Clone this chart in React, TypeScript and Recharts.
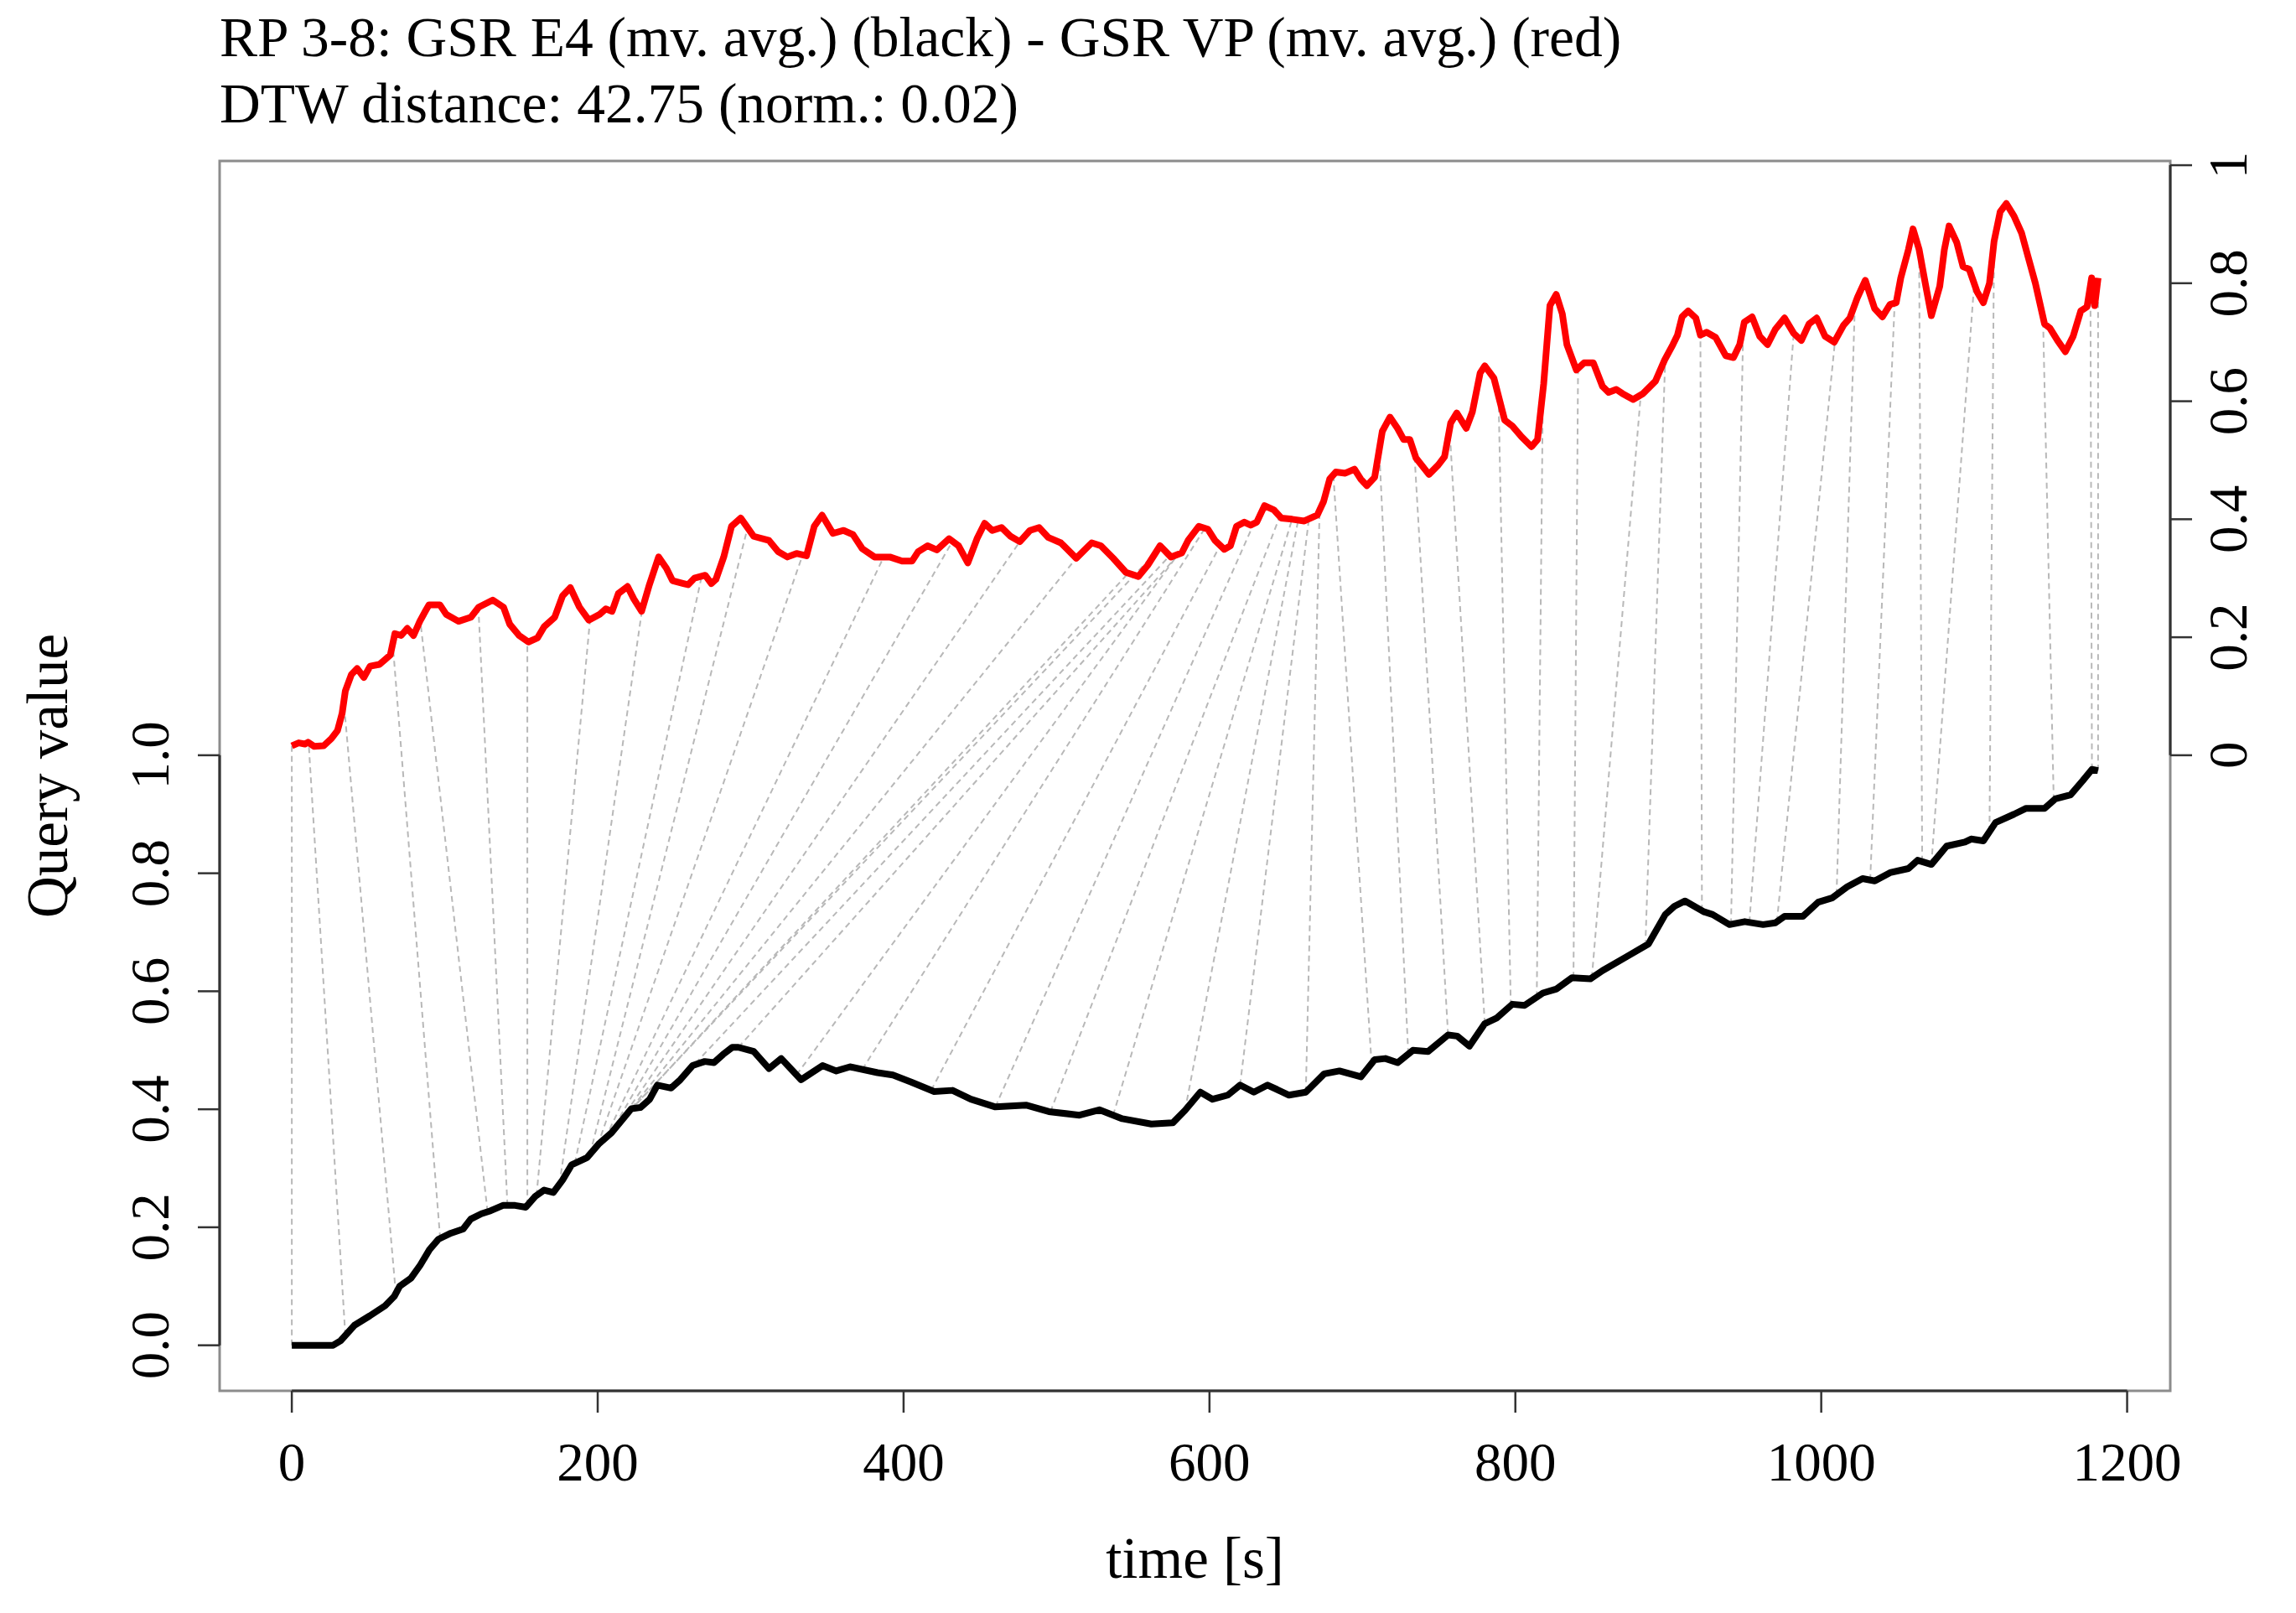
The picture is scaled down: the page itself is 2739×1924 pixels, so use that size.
import React from 'react';
import { ComposedChart, Line, XAxis, YAxis, ReferenceLine, ReferenceArea } from 'recharts';

// ---------- data ----------
const blackTime = [0, 27, 32, 41, 51, 61, 67, 70.5, 78, 84, 90, 96, 104, 112, 117, 124, 130, 138, 146, 153, 159, 165, 171, 177, 183, 193, 201, 209, 215, 222, 228, 234, 239, 248, 254, 262, 270, 276, 282, 288,
  292, 302, 312, 320, 333, 347, 356, 365, 383, 393, 405, 420, 432, 444, 460, 480, 495, 515, 528, 543, 562, 576, 584, 594, 602,
  612, 620, 629, 638, 652, 663, 675, 685, 699, 708, 715, 723, 733, 743, 756, 762, 770, 780, 788, 798, 806, 818, 827, 837, 849, 857, 873, 887, 898, 904, 911,
  923, 929, 940, 950, 962, 970, 976, 988, 998, 1007, 1017, 1027, 1035, 1045, 1057, 1063, 1072, 1082, 1094, 1098, 1106, 1114, 1126, 1134, 1146, 1153, 1163, 1171, 1177, 1181];
const blackValue = [0, 0.0, 0.008, 0.034, 0.05, 0.067, 0.083, 0.1, 0.114, 0.136, 0.162, 0.18, 0.19, 0.197, 0.214, 0.223, 0.228, 0.237, 0.237, 0.234, 0.252, 0.263, 0.259, 0.28, 0.306, 0.318, 0.342, 0.36, 0.379, 0.401, 0.403, 0.417, 0.441, 0.436, 0.45, 0.474, 0.481, 0.479, 0.493, 0.505,
  0.505, 0.498, 0.469, 0.486, 0.45, 0.474, 0.465, 0.472, 0.462, 0.458, 0.446, 0.43, 0.432, 0.417, 0.404, 0.407, 0.396, 0.39, 0.399, 0.384, 0.375, 0.377, 0.398, 0.429, 0.417,
  0.424, 0.441, 0.429, 0.441, 0.424, 0.429, 0.46, 0.465, 0.455, 0.484, 0.486, 0.479, 0.5, 0.498, 0.526, 0.524, 0.507, 0.545, 0.555, 0.578, 0.576, 0.597, 0.604, 0.623, 0.621, 0.635, 0.659, 0.68, 0.73, 0.744, 0.753,
  0.735, 0.73, 0.713, 0.718, 0.713, 0.716, 0.727, 0.727, 0.751, 0.758, 0.777, 0.791, 0.787, 0.801, 0.808, 0.822, 0.815, 0.846, 0.853, 0.858, 0.855, 0.886, 0.9, 0.91, 0.91, 0.926, 0.933, 0.957, 0.976, 0.974];

const redTime = [0, 4.5, 8.6, 10.6, 14.7, 20.8, 25.8, 29.9, 32.9, 35, 39, 42.7, 47.1, 51.2, 57.3, 61.3, 64.4, 67.4, 71.5, 75.5, 79.6, 83.7, 87.7, 89.7, 96.8, 100.9, 109, 117.1, 122.2, 131.4, 138.4, 142.5, 148.6, 154.7, 160.7, 165, 171.9, 177, 182.1, 188.1, 194.2, 201.3, 205.3, 209.4, 213.5, 219.5, 223.6, 228.7, 233.8, 239.8, 244.9, 248.9, 256.1, 259.1, 263.2, 270.3, 274.3, 277.3, 282.4, 287.5, 293.5,
  302, 312, 318, 324, 330, 336.5, 341.6, 346.7, 353.8, 360.8, 366.9, 373, 381, 391, 399, 405.5, 409.5, 415.6, 421.7, 429.8, 435.9, 442, 448, 453, 458, 464, 470, 476, 482.6, 488.6, 494.7, 502.8, 512.9, 523, 529, 537, 545.4, 553.5, 559.6, 567.7, 574.8, 581.9, 586, 593, 599,
  603.6, 609.7, 613.7, 617.7, 622.8, 626.9, 630.9, 636, 642, 647, 654, 662, 670.5, 674.6, 678.6, 682.6, 688.8, 694.8, 698.9, 702.9, 708, 713, 718, 723, 727, 731, 735, 743.5, 749.6, 753.7, 757.7, 761.7, 767.9, 771.9, 777, 780, 786, 793, 798, 804, 810.5, 814.5, 818.5, 822.6, 826.7, 830.7, 833.7, 839.9, 844.9, 851, 857, 861, 866, 870, 877, 883.5, 891.6, 897.6,
  903, 906, 909, 913, 918, 921, 925, 931, 937.6, 942.6, 946.7, 949.7, 954.8, 959.8, 964.9, 970, 976, 982, 987, 992, 997, 1002.5, 1008.5, 1014.6, 1018.7, 1023.7, 1028.8, 1034.9, 1040, 1045, 1049, 1052, 1057, 1060, 1064, 1068, 1072, 1077.5, 1080.5, 1083.6, 1088.6, 1092.7, 1096.7, 1101.8, 1106, 1110, 1113, 1117, 1121, 1126, 1131, 1135, 1140, 1146, 1149.5, 1154.5, 1159.6, 1164.7, 1169.7, 1173.8, 1176.8, 1178.8, 1181];
const redValue = [0.016, 0.021, 0.019, 0.022, 0.015, 0.016, 0.028, 0.042, 0.071, 0.109, 0.137, 0.147, 0.132, 0.151, 0.154, 0.163, 0.17, 0.206, 0.203, 0.215, 0.203, 0.227, 0.246, 0.255, 0.255, 0.239, 0.227, 0.234, 0.251, 0.263, 0.251, 0.222, 0.203, 0.192, 0.199, 0.218, 0.234, 0.27, 0.284, 0.251, 0.229, 0.239, 0.248, 0.244, 0.274, 0.286, 0.265, 0.244, 0.289, 0.336, 0.317, 0.296, 0.291, 0.289, 0.3, 0.305, 0.291, 0.298, 0.336, 0.388, 0.402,
  0.371, 0.364, 0.345, 0.336, 0.342, 0.338, 0.388, 0.407, 0.376, 0.381, 0.374, 0.35, 0.336, 0.336, 0.329, 0.329, 0.345, 0.355, 0.348, 0.367, 0.355, 0.326, 0.367, 0.393, 0.381, 0.386, 0.371, 0.362, 0.381, 0.386, 0.369, 0.36, 0.334, 0.36, 0.355, 0.334, 0.31, 0.303, 0.322, 0.355, 0.336, 0.343, 0.364, 0.388, 0.383,
  0.364, 0.349, 0.355, 0.388, 0.395, 0.39, 0.395, 0.423, 0.416, 0.402, 0.4, 0.397, 0.407, 0.43, 0.468, 0.48, 0.478, 0.485, 0.468, 0.457, 0.471, 0.549, 0.573, 0.554, 0.535, 0.535, 0.504, 0.476, 0.492, 0.506, 0.563, 0.58, 0.554, 0.582, 0.648, 0.66, 0.639, 0.568, 0.558, 0.54, 0.523, 0.535, 0.629, 0.762, 0.781, 0.748, 0.696, 0.653, 0.665, 0.665, 0.625, 0.615, 0.62, 0.613, 0.603, 0.613, 0.634, 0.67,
  0.696, 0.712, 0.743, 0.753, 0.741, 0.712, 0.717, 0.708, 0.677, 0.674, 0.696, 0.734, 0.743, 0.71, 0.696, 0.722, 0.741, 0.715, 0.703, 0.731, 0.741, 0.71, 0.7, 0.729, 0.741, 0.776, 0.805, 0.757, 0.743, 0.764, 0.767, 0.809, 0.857, 0.892, 0.857, 0.8, 0.745, 0.795, 0.857, 0.897, 0.869, 0.828, 0.824, 0.786, 0.767, 0.8, 0.871, 0.921, 0.935, 0.914, 0.885, 0.847, 0.8, 0.731, 0.724, 0.703, 0.684, 0.71, 0.753, 0.76, 0.809, 0.762, 0.809];

// DTW alignment: query (black) time -> reference (red) time
const matchQueryTime = [0, 35, 68, 97, 128, 141, 154, 160, 175, 185, 195, 200, 205, 208, 211, 214, 217, 220, 255, 292, 330, 373, 418, 460, 496, 537, 584, 620, 663, 706, 730, 756, 780, 797, 814, 838, 850, 885, 922, 941, 953, 971, 1010, 1032, 1066, 1072, 1110, 1152, 1177, 1181];
const matchRefTime = [0, 11, 34, 66, 84, 122, 154, 195, 229, 268, 298, 334, 387, 432, 476, 513, 547, 565, 574, 580, 588, 597, 607, 629, 646, 654, 658, 665, 672, 681, 711, 734, 757, 789, 818, 841, 882, 898, 921, 949, 982, 1009, 1022, 1048, 1064, 1100, 1113, 1145, 1176, 1181];

const xTicks = [0, 200, 400, 600, 800, 1000, 1200];
const leftTicks = [0, 0.2, 0.4, 0.6, 0.8, 1.0];
const rightTicks = [0, 0.2, 0.4, 0.6, 0.8, 1];

const TITLE_1 = 'RP 3-8: GSR E4 (mv. avg.) (black) - GSR VP (mv. avg.) (red)';
const TITLE_2 = 'DTW distance: 42.75 (norm.: 0.02)';
const X_LABEL = 'time [s]';
const Y_LABEL = 'Query value';

const REF_OFFSET = 1; // reference series is drawn shifted up by 1
const X_DOMAIN: [number, number] = [-47.2, 1228.2];
const Y_DOMAIN: [number, number] = [-0.0772, 2.0072];
const Y_RIGHT_DOMAIN: [number, number] = [Y_DOMAIN[0] - REF_OFFSET, Y_DOMAIN[1] - REF_OFFSET];

// ---------- helpers ----------
const blackData = blackTime.map((t, i) => ({ t, v: blackValue[i] }));
const redData = redTime.map((t, i) => ({ t, v: redValue[i] }));

function valueAt(ts: number[], vs: number[], t: number) {
  if (t <= ts[0]) return vs[0];
  for (let i = 1; i < ts.length; i++) {
    if (t <= ts[i]) {
      const f = (t - ts[i - 1]) / (ts[i] - ts[i - 1]);
      return vs[i - 1] + f * (vs[i] - vs[i - 1]);
    }
  }
  return vs[vs.length - 1];
}

const matches = matchQueryTime.map((tq, i) => {
  const tr = matchRefTime[i];
  return [
    { x: tq, y: valueAt(blackTime, blackValue, tq) },
    { x: tr, y: valueAt(redTime, redValue, tr) + REF_OFFSET },
  ];
});

const FONT = "'Liberation Serif', 'Times New Roman', serif";
const W = 2739;
const H = 1924;
// plot box: left 262, right 2589, top 192, bottom 1659
const LEFT_AXIS_W = 200;
const RIGHT_AXIS_W = 140;
const X_AXIS_H = 200;
const M = { top: 192, right: 150 - RIGHT_AXIS_W, bottom: 265 - X_AXIS_H, left: 262 - LEFT_AXIS_W };
const BOX = { left: 262, right: 2589, top: 192, bottom: 1659 };

const XTick = (props: any) => {
  const { x, y, payload } = props;
  return (
    <text x={x} y={y + 81} textAnchor="middle" fontFamily={FONT} fontSize={65} fill="#000">
      {String(payload.value)}
    </text>
  );
};

const LeftTick = (props: any) => {
  const { x, y, payload } = props;
  const bx = x - 35;
  return (
    <text x={bx} y={y} transform={`rotate(-90 ${bx} ${y})`} textAnchor="middle" fontFamily={FONT} fontSize={65} fill="#000">
      {Number(payload.value).toFixed(1)}
    </text>
  );
};

const RightTick = (props: any) => {
  const { x, y, payload } = props;
  const bx = x + 65;
  return (
    <text x={bx} y={y} transform={`rotate(-90 ${bx} ${y})`} textAnchor="middle" fontFamily={FONT} fontSize={65} fill="#000">
      {String(payload.value)}
    </text>
  );
};

const tickLineStyle = { stroke: '#333', strokeWidth: 2.5 };

export default function App() {
  return (
    <div style={{ position: 'absolute', left: 0, top: 0, width: W, height: H, background: '#fff' }}>
      <ComposedChart width={W} height={H} margin={M}>
        <XAxis
          xAxisId="x"
          type="number"
          dataKey="t"
          domain={X_DOMAIN}
          ticks={xTicks}
          allowDataOverflow
          axisLine={false}
          tickLine={tickLineStyle}
          tickSize={26}
          tickMargin={0}
          height={X_AXIS_H}
          tick={<XTick />}
          interval={0}
        />
        <YAxis
          yAxisId="left"
          type="number"
          domain={Y_DOMAIN}
          ticks={leftTicks}
          allowDataOverflow
          axisLine={false}
          tickLine={tickLineStyle}
          tickSize={26}
          tickMargin={0}
          width={LEFT_AXIS_W}
          tick={<LeftTick />}
          interval={0}
        />
        <YAxis
          yAxisId="right"
          orientation="right"
          type="number"
          domain={Y_RIGHT_DOMAIN}
          ticks={rightTicks}
          allowDataOverflow
          axisLine={false}
          tickLine={tickLineStyle}
          tickSize={26}
          tickMargin={0}
          width={RIGHT_AXIS_W}
          tick={<RightTick />}
          interval={0}
        />
        <ReferenceArea
          xAxisId="x"
          yAxisId="left"
          x1={X_DOMAIN[0]}
          x2={X_DOMAIN[1]}
          y1={Y_DOMAIN[0]}
          y2={Y_DOMAIN[1]}
          fill="none"
          fillOpacity={0}
          stroke="#8c8c8c"
          strokeWidth={3}
          ifOverflow="visible"
        />
        {matches.map((seg, i) => (
          <ReferenceLine
            key={`m${i}`}
            xAxisId="x"
            yAxisId="left"
            segment={seg}
            stroke="#b8b8b8"
            strokeWidth={2}
            strokeDasharray="7 5"
            ifOverflow="visible"
          />
        ))}
        <ReferenceLine xAxisId="x" yAxisId="left" segment={[{ x: xTicks[0], y: Y_DOMAIN[0] }, { x: xTicks[xTicks.length - 1], y: Y_DOMAIN[0] }]} stroke="#333" strokeWidth={3} ifOverflow="visible" />
        <ReferenceLine xAxisId="x" yAxisId="left" segment={[{ x: X_DOMAIN[0], y: leftTicks[0] }, { x: X_DOMAIN[0], y: leftTicks[leftTicks.length - 1] }]} stroke="#333" strokeWidth={3} ifOverflow="visible" />
        <ReferenceLine xAxisId="x" yAxisId="right" segment={[{ x: X_DOMAIN[1], y: rightTicks[0] }, { x: X_DOMAIN[1], y: rightTicks[rightTicks.length - 1] }]} stroke="#333" strokeWidth={3} ifOverflow="visible" />
        <Line
          xAxisId="x"
          yAxisId="left"
          data={blackData}
          dataKey="v"
          type="linear"
          stroke="#000"
          strokeWidth={8}
          dot={false}
          activeDot={false}
          isAnimationActive={false}
          strokeLinejoin="round"
        />
        <Line
          xAxisId="x"
          yAxisId="right"
          data={redData}
          dataKey="v"
          type="linear"
          stroke="#ff0000"
          strokeWidth={8}
          dot={false}
          activeDot={false}
          isAnimationActive={false}
          strokeLinejoin="round"
        />
      </ComposedChart>
      <svg width={W} height={H} style={{ position: 'absolute', left: 0, top: 0, pointerEvents: 'none' }}>
        <text x={BOX.left} y={67} fontFamily={FONT} fontSize={67.5} fill="#000">{TITLE_1}</text>
        <text x={BOX.left} y={146} fontFamily={FONT} fontSize={67.5} fill="#000">{TITLE_2}</text>
        <text x={(BOX.left + BOX.right) / 2} y={1882} textAnchor="middle" fontFamily={FONT} fontSize={69} fill="#000">{X_LABEL}</text>
        <text x={80} y={(BOX.top + BOX.bottom) / 2} transform={`rotate(-90 80 ${(BOX.top + BOX.bottom) / 2})`} textAnchor="middle" fontFamily={FONT} fontSize={69} fill="#000">{Y_LABEL}</text>
      </svg>
    </div>
  );
}
